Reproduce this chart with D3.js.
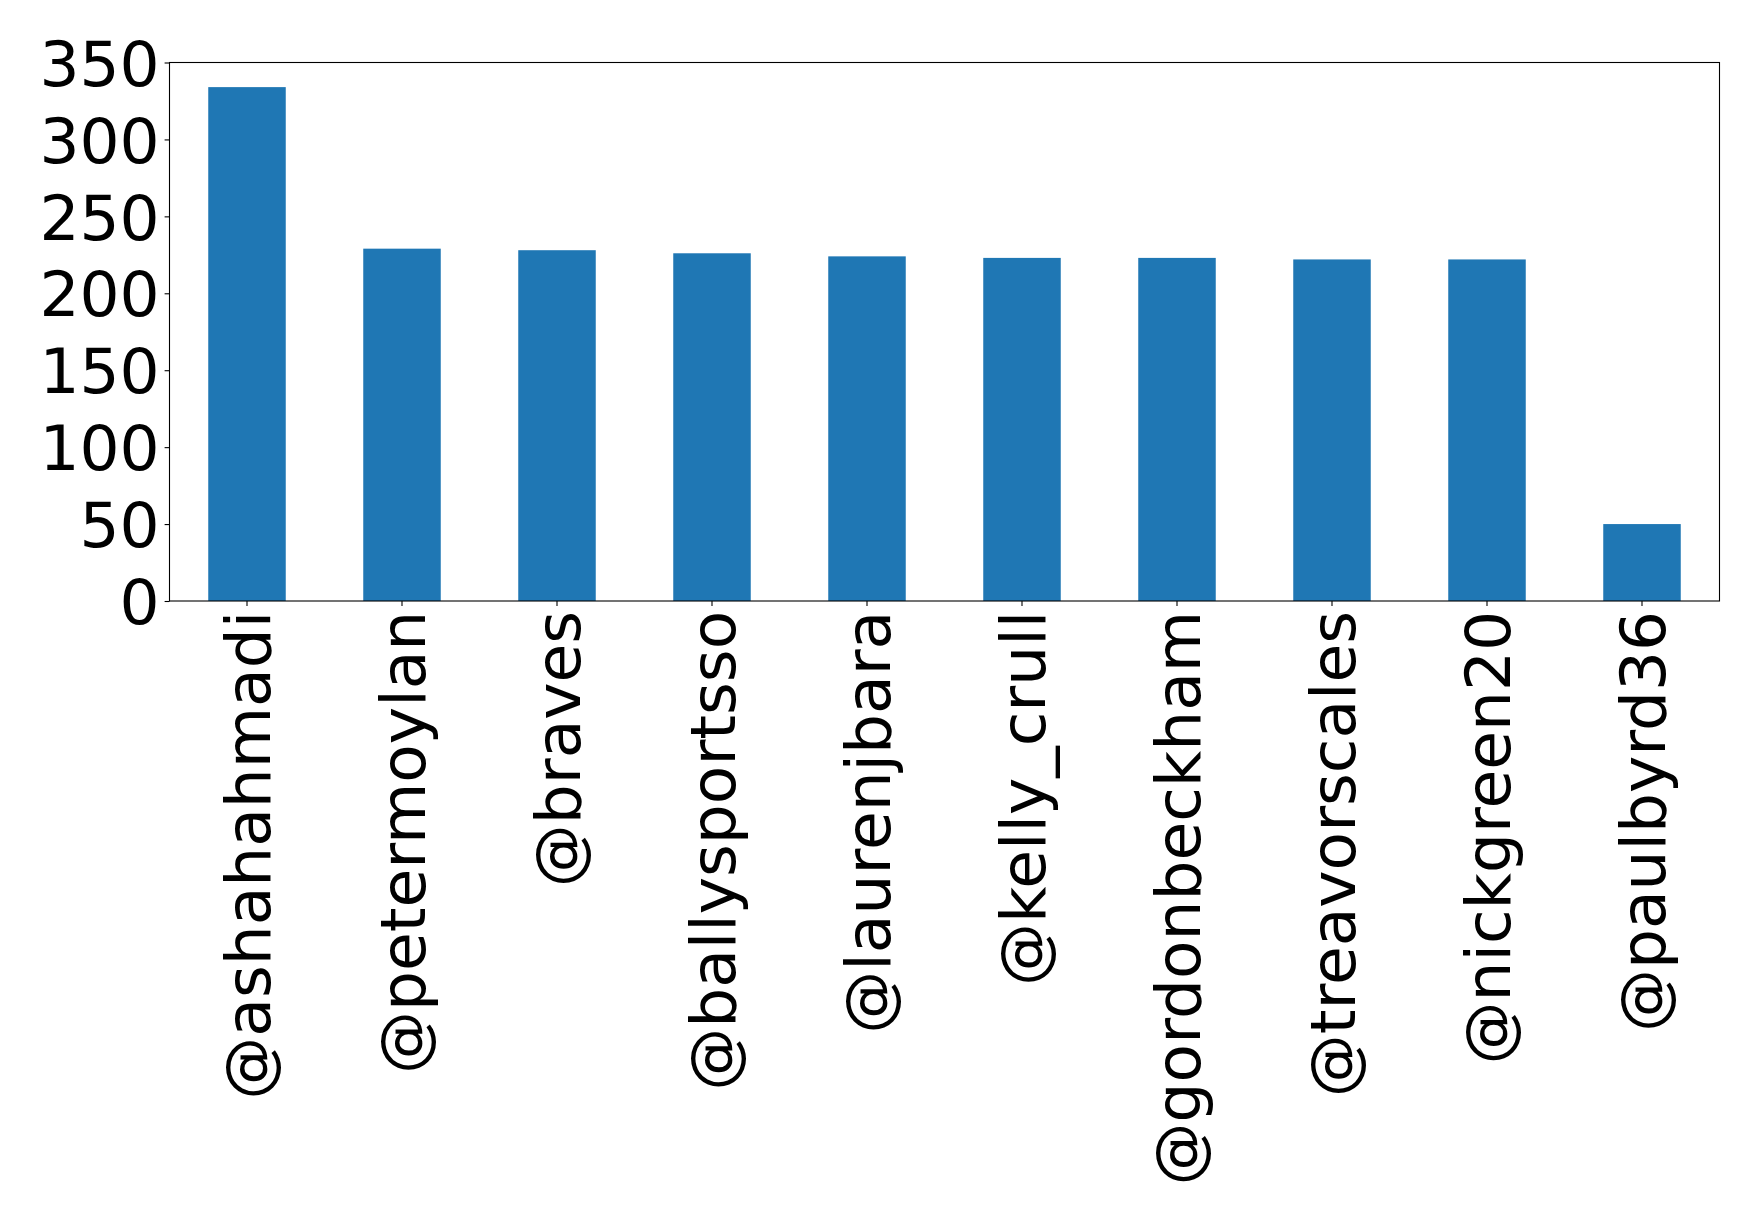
<!DOCTYPE html>
<html>
<head>
<meta charset="utf-8">
<script src="https://cdn.jsdelivr.net/npm/d3@7"></script>
<style>
  html, body { margin: 0; padding: 0; background: #fff; }
  svg { display: block; }
  text { font-family: "DejaVu Sans", sans-serif; }
</style>
</head>
<body>
<svg id="chart" width="1759" height="1220"></svg>
<script>
const categories = ["@ashahahmadi", "@petermoylan", "@braves", "@ballysportsso", "@laurenjbara",
  "@kelly_crull", "@gordonbeckham", "@treavorscales", "@nickgreen20", "@paulbyrd36"];
const values = [334, 229, 228, 226, 224, 223, 223, 222, 222, 50];
const yTicks = [0, 50, 100, 150, 200, 250, 300, 350];

const W = 1759, H = 1220;
const m = { left: 169.5, right: 1719.5, top: 62.5, bottom: 601 };
const fontSize = 63;
const tickLen = 4.9, pad = 4.9;

const svg = d3.select("#chart");

const x = d3.scaleBand().domain(categories).range([m.left, m.right])
  .paddingInner(0.5).paddingOuter(0.25);
const y = d3.scaleLinear().domain([0, 350]).range([m.bottom, m.top]);

svg.append("rect").attr("width", W).attr("height", H).attr("fill", "#fff");

svg.append("g").selectAll("rect").data(values).join("rect")
  .attr("x", (d, i) => x(categories[i]))
  .attr("width", x.bandwidth())
  .attr("y", d => y(d))
  .attr("height", d => y(0) - y(d))
  .attr("fill", "#1f77b4");

// Y axis
const yAxis = d3.axisLeft(y).tickValues(yTicks).tickSize(tickLen).tickPadding(pad);
const gy = svg.append("g").attr("transform", `translate(${m.left},0)`).call(yAxis);
gy.select(".domain").remove();
gy.selectAll(".tick line").attr("stroke", "#000").attr("stroke-width", 1.1);
gy.selectAll(".tick text").attr("font-size", fontSize).attr("fill", "#000")
  .attr("font-family", "DejaVu Sans, sans-serif").attr("dy", "0.36em");

// X axis
const xAxis = d3.axisBottom(x).tickSize(tickLen).tickPadding(pad);
const gx = svg.append("g").attr("transform", `translate(0,${m.bottom})`).call(xAxis);
gx.select(".domain").remove();
gx.selectAll(".tick line").attr("stroke", "#000").attr("stroke-width", 1.1);
gx.selectAll(".tick text")
  .attr("font-size", fontSize).attr("fill", "#000")
  .attr("font-family", "DejaVu Sans, sans-serif")
  .attr("transform", `translate(0,${tickLen + pad}) rotate(-90)`)
  .attr("x", 0).attr("y", 0).attr("dy", "0.36em")
  .attr("text-anchor", "end");

// Frame
svg.append("rect")
  .attr("x", m.left).attr("y", m.top)
  .attr("width", m.right - m.left).attr("height", m.bottom - m.top)
  .attr("fill", "none").attr("stroke", "#000").attr("stroke-width", 1.1);
</script>
</body>
</html>
